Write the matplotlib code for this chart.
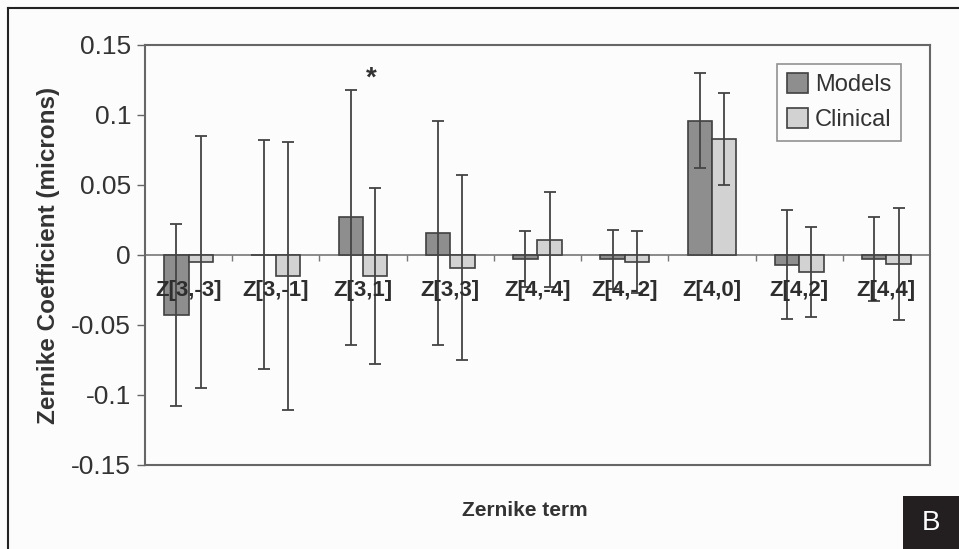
import matplotlib
matplotlib.use("Agg")
import matplotlib.pyplot as plt
import numpy as np
from matplotlib.patches import Rectangle
from matplotlib.lines import Line2D

plt.rcParams['font.family'] = ['Liberation Sans', 'DejaVu Sans']

terms = ["Z[3,-3]", "Z[3,-1]", "Z[3,1]", "Z[3,3]", "Z[4,-4]", "Z[4,-2]", "Z[4,0]", "Z[4,2]", "Z[4,4]"]
models = [-0.043, 0.0003, 0.027, 0.0155, -0.003, -0.003, 0.096, -0.007, -0.003]
models_err = [0.065, 0.082, 0.091, 0.080, 0.020, 0.021, 0.034, 0.039, 0.030]
clinical = [-0.005, -0.015, -0.015, -0.009, 0.011, -0.005, 0.083, -0.012, -0.0065]
clinical_err = [0.090, 0.096, 0.063, 0.066, 0.034, 0.022, 0.033, 0.032, 0.040]
yticks = [-0.15, -0.1, -0.05, 0, 0.05, 0.1, 0.15]
ytick_labels = ["-0.15", "-0.1", "-0.05", "0", "0.05", "0.1", "0.15"]

W, H = 959, 549
fig = plt.figure(figsize=(W / 100, H / 100), dpi=100, facecolor='#fcfcfc')
ax = fig.add_axes([145 / W, 1 - 465 / H, (930 - 145) / W, (465 - 45) / H])
ax.set_facecolor('#fcfcfc')

x = np.arange(len(terms))
bw = 0.28
dark = '#8e8e8e'
light = '#d2d2d2'
edge = '#404040'
txt = '#333333'

ax.bar(x - bw / 2, models, bw, color=dark, edgecolor=edge, linewidth=1.2, label='Models', zorder=2)
ax.bar(x + bw / 2, clinical, bw, color=light, edgecolor=edge, linewidth=1.2, label='Clinical', zorder=2)
ax.errorbar(x - bw / 2, models, yerr=models_err, fmt='none', ecolor='#444444', elinewidth=1.3,
            capsize=4, capthick=1.3, zorder=3)
ax.errorbar(x + bw / 2, clinical, yerr=clinical_err, fmt='none', ecolor='#444444', elinewidth=1.3,
            capsize=4, capthick=1.3, zorder=3)

ax.axhline(0, color='#777777', linewidth=1.2, zorder=1)
bounds = np.arange(len(terms) + 1) - 0.5
ax.vlines(bounds[1:-1], -0.004, 0, color='#777777', linewidth=1.0, zorder=1)

for xi, t in zip(x, terms):
    ax.text(xi, -0.0255, t, ha='center', va='center', fontsize=16, fontweight='bold', color='#2e2e2e', zorder=4)

ax.text(2.1, 0.126, '*', ha='center', va='center', fontsize=20, fontweight='bold', color=txt)

ax.set_xlim(-0.5, len(terms) - 0.5)
ax.set_ylim(-0.15, 0.15)
ax.set_xticks([])
ax.set_yticks(yticks)
ax.set_yticklabels(ytick_labels, fontsize=19, color=txt)
ax.tick_params(axis='y', length=6, width=1.0, color='#666666', pad=4)
for s in ax.spines.values():
    s.set_color('#666666')
    s.set_linewidth(1.5)

ax.set_ylabel('Zernike Coefficient (microns)', fontsize=17.5, fontweight='bold', color=txt, labelpad=8)
fig.text(525 / W, 1 - 510 / H, 'Zernike term', ha='center', va='center', fontsize=15,
         fontweight='bold', color=txt)

leg = ax.legend(loc='upper right', bbox_to_anchor=((901 - 145) / 785, (465 - 64) / 420),
                fontsize=17, frameon=True, fancybox=False, handlelength=0.9, handleheight=0.9,
                handletextpad=0.3, borderpad=0.4, labelspacing=0.5, borderaxespad=0)
leg.get_frame().set_edgecolor('#777777')
leg.get_frame().set_linewidth(1.2)
leg.get_frame().set_facecolor('#fcfcfc')
for t in leg.get_texts():
    t.set_color(txt)

# outer frame lines (top and left)
fig.add_artist(Line2D([8 / W, 1], [1 - 8 / H, 1 - 8 / H], transform=fig.transFigure, color='#222222', linewidth=1.5))
fig.add_artist(Line2D([8 / W, 8 / W], [0, 1 - 8 / H], transform=fig.transFigure, color='#222222', linewidth=1.5))

# panel label box
fig.add_artist(Rectangle((903 / W, 0), (W - 903) / W, (549 - 496) / H, transform=fig.transFigure,
                         facecolor='#231f20', edgecolor='none'))
fig.text(931 / W, 1 - 523 / H, 'B', ha='center', va='center', fontsize=20, color='white')

fig.savefig('out.png', dpi=100, facecolor=fig.get_facecolor())
